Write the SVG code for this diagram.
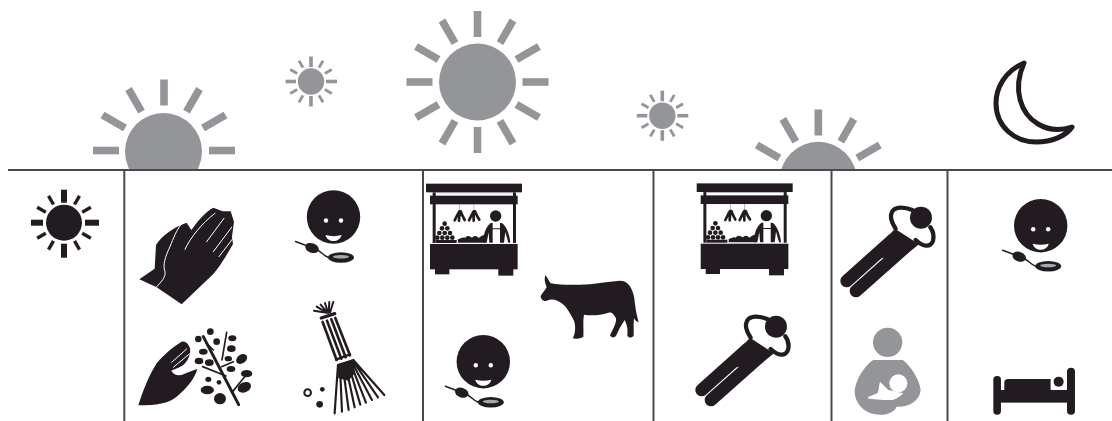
<svg xmlns="http://www.w3.org/2000/svg" width="1112" height="421" viewBox="0 0 1112 421">
<style>
.k{fill:#231f20}.g{fill:#939598}.w{fill:#fff}
.wl{fill:none;stroke:#fff;stroke-width:3;stroke-linecap:round;stroke-linejoin:round}
.kl{fill:none;stroke:#231f20;stroke-linecap:round;stroke-linejoin:round}
.grid{stroke:#4a4a4a;fill:none}
</style>
<defs>
<filter id="soft" filterUnits="userSpaceOnUse" x="0" y="0" width="1112" height="421"><feGaussianBlur stdDeviation="0.5"/></filter>
<clipPath id="horizon"><rect x="0" y="0" width="1112" height="169"/></clipPath>
<g id="bigRay"><rect x="-3.800" y="-71" width="7.600" height="26"/></g>
<g id="smallSun">
<circle r="13.200"/>
<rect x="-1.800" y="-25" width="3.600" height="10.500"/><rect x="-1.800" y="14.500" width="3.600" height="10.500"/>
<rect x="-25.500" y="-1.800" width="10.500" height="3.600"/><rect x="15" y="-1.800" width="11" height="3.600"/>
<rect x="-1.400" y="-24" width="2.800" height="8" transform="rotate(30)"/><rect x="-1.400" y="-24" width="2.800" height="8" transform="rotate(60)"/><rect x="-1.400" y="-24" width="2.800" height="8" transform="rotate(120)"/><rect x="-1.400" y="-24" width="2.800" height="8" transform="rotate(150)"/><rect x="-1.400" y="-24" width="2.800" height="8" transform="rotate(210)"/><rect x="-1.400" y="-24" width="2.800" height="8" transform="rotate(240)"/><rect x="-1.400" y="-24" width="2.800" height="8" transform="rotate(300)"/><rect x="-1.400" y="-24" width="2.800" height="8" transform="rotate(330)"/>
</g>
<g id="face">
<circle class="k" r="26.700"/>
<circle class="w" cx="-7.500" cy="3.500" r="2.200"/><circle class="w" cx="7.500" cy="3.500" r="2.200"/>
<path class="w" d="M-8 18C-3 19.500 3 19.500 8 18C7 22 3.500 24 0 24S-7 22-8 18Z"/>
<path class="kl" stroke-width="1.500" fill="none" d="M-38 24.500L-26 29M-17 32.500C-13 34-10 39-5 40.500"/>
<ellipse class="k" cx="-21.500" cy="31" rx="7" ry="4.800" transform="rotate(20 -21.500 31)"/>
<ellipse class="k" cx="7.500" cy="40.500" rx="13" ry="5.200"/>
<ellipse cx="7.500" cy="39.800" rx="8" ry="1.800" fill="#a7a9ac"/>
</g>
<g id="stall" class="k">
<rect x="18" y="41" width="288" height="26"/>
<rect x="38" y="67" width="9" height="152"/><rect x="279" y="67" width="9" height="152"/>
<rect x="47" y="68" width="232" height="1.500" fill="#777"/>
<rect x="30" y="77" width="263" height="26"/>
<rect x="30" y="222" width="263" height="76"/>
<rect x="45" y="296" width="43" height="17"/><rect x="235" y="296" width="45" height="21"/>
<rect x="118" y="103" width="1.500" height="20" fill="#777"/><rect x="161" y="103" width="1.500" height="20" fill="#777"/>
<path class="kl" stroke-width="8" d="M118 124C112 134 108 143 104 151M120 124C118 134 117 144 117 152M122 124C126 135 130 143 134 150"/>
<path class="kl" stroke-width="8" d="M161 124C155 134 151 143 147 151M163 124C161 134 160 144 161 152M165 124C169 135 173 143 178 149"/>
<circle cx="74" cy="161" r="7"/>
<circle cx="66" cy="175" r="7"/><circle cx="82" cy="175" r="7"/>
<circle cx="58" cy="189" r="7"/><circle cx="74" cy="189" r="7"/><circle cx="90" cy="189" r="7"/>
<circle cx="52" cy="203" r="7"/><circle cx="67" cy="203" r="7"/><circle cx="82" cy="203" r="7"/><circle cx="97" cy="203" r="7"/>
<rect x="47" y="210" width="63" height="9"/>
<path d="M114 218V208C122 207 128 200 135 204C142 194 150 198 156 203C163 196 170 196 176 204C182 198 190 196 196 192V218Z"/>
<circle cx="227" cy="138" r="17"/>
<path d="M190 218C190 195 196 172 212 159H218V175H240V159H246C262 172 270 200 271 218H265L256 186L252 218H240V178H218V218H208L206 187L200 218Z"/>
</g>
<g id="sleeper">
<path class="kl" stroke-width="38" d="M845 660L985 535"/>
<path class="kl" stroke-width="38" d="M873 690L1015 564"/>
<path class="k" d="M990 503L1062 550L1027 578L950 592L932 566Z"/>
<path class="w" d="M1000 455C1008 482 1038 518 1085 531C1096 522 1099 510 1092 494L1050 444Z"/>
<path class="kl" stroke-width="13" d="M992 503C980 485 974 466 981 453C990 435 1020 438 1042 447"/>
<path class="kl" stroke-width="13" d="M1052 537C1075 558 1096 560 1104 540C1108 525 1104 510 1096 499"/>
<circle class="k" cx="1068" cy="470" r="33"/>
</g>
</defs>
<g filter="url(#soft)">
<g id="grid" class="grid">
<path d="M8 170H1112" stroke-width="2"/>
<path d="M124.300 170V421M423 170V421M653.500 170V421M831.500 170V421M947.500 170V421" stroke-width="2"/>
</g>

<g id="sun-rise" class="g">
<g clip-path="url(#horizon)"><circle cx="163.500" cy="151.500" r="38.500"/></g>
<g transform="translate(164 150.500)">
<use href="#bigRay"/><use href="#bigRay" transform="rotate(30)"/><use href="#bigRay" transform="rotate(60)"/><use href="#bigRay" transform="rotate(90)"/><use href="#bigRay" transform="rotate(-30)"/><use href="#bigRay" transform="rotate(-60)"/><use href="#bigRay" transform="rotate(-90)"/>
</g>
</g>
<g id="sun-morning" class="g"><use href="#smallSun" transform="translate(311 81.500)"/></g>
<g id="sun-noon" class="g">
<circle cx="477.500" cy="82" r="38.500"/>
<g transform="translate(477.500 82)">
<use href="#bigRay"/><use href="#bigRay" transform="rotate(30)"/><use href="#bigRay" transform="rotate(60)"/><use href="#bigRay" transform="rotate(90)"/><use href="#bigRay" transform="rotate(120)"/><use href="#bigRay" transform="rotate(150)"/><use href="#bigRay" transform="rotate(180)"/><use href="#bigRay" transform="rotate(210)"/><use href="#bigRay" transform="rotate(240)"/><use href="#bigRay" transform="rotate(270)"/><use href="#bigRay" transform="rotate(300)"/><use href="#bigRay" transform="rotate(330)"/>
</g>
</g>
<g id="sun-afternoon" class="g"><use href="#smallSun" transform="translate(662.300 115.700)"/></g>
<g id="sun-set" class="g">
<g clip-path="url(#horizon)"><circle cx="818.300" cy="180.200" r="38.500"/></g>
<g transform="translate(818.300 180.500)">
<use href="#bigRay"/><use href="#bigRay" transform="rotate(30)"/><use href="#bigRay" transform="rotate(60)"/><use href="#bigRay" transform="rotate(-30)"/><use href="#bigRay" transform="rotate(-60)"/>
</g>
</g>
<g id="moon"><path class="kl" stroke-width="5" d="M1024 63C1005 71 996 88 996 103C996 127 1015 142 1036 142C1052 142 1066 136 1072 127C1060 131 1048 130 1038 124C1021 114 1012 90 1024 63Z"/></g>

<g id="sun-black" class="k" transform="translate(64 222.700)">
<circle r="18"/>
<rect x="-3" y="-33" width="6" height="13"/><rect x="-3" y="21" width="6" height="14"/>
<rect x="-33" y="-3" width="12" height="6"/><rect x="21" y="-3" width="14" height="6"/>
<rect x="-1.700" y="-31" width="3.400" height="10" transform="rotate(30)"/><rect x="-1.700" y="-31" width="3.400" height="10" transform="rotate(60)"/><rect x="-1.700" y="-31" width="3.400" height="10" transform="rotate(120)"/><rect x="-1.700" y="-31" width="3.400" height="10" transform="rotate(150)"/><rect x="-1.700" y="-31" width="3.400" height="10" transform="rotate(210)"/><rect x="-1.700" y="-31" width="3.400" height="10" transform="rotate(240)"/><rect x="-1.700" y="-31" width="3.400" height="10" transform="rotate(300)"/><rect x="-1.700" y="-31" width="3.400" height="10" transform="rotate(330)"/>
</g>

<g id="praying-hands" transform="translate(0 170) scale(.3333)">
<path class="k" d="M418 328L464 296L468 225C485 195 525 170 560 158L574 180C590 158 615 125 640 113L668 124L692 124L702 155L696 200L699 222C680 255 660 290 640 312L545 403L470 352Z"/>
<path class="wl" stroke-width="2.500" d="M470 350C485 335 498 320 495 305C488 285 495 262 510 230C520 205 530 180 542 165"/>
<path class="wl" stroke-width="2.500" d="M555 238C570 205 605 160 645 130"/>
<path class="wl" stroke-width="2.200" d="M620 215L672 145M640 245L695 172M657 260L697 208"/>
</g>
<g id="hand-herb" transform="translate(0 170) scale(.3333)">
<path class="k" d="M415 706C430 660 445 620 470 580C490 555 520 530 545 515C555 512 565 520 570 535C573 552 565 572 550 585C535 595 522 598 514 602C522 616 537 619 552 612C567 606 580 600 592 597C585 625 560 655 530 680C505 700 470 706 415 706Z"/>
<path class="wl" stroke-width="3.500" d="M515 577L560 537M520 592L568 552"/>
<path class="kl" stroke-width="9" d="M610 500L716 704"/>
<path class="kl" stroke-width="5" d="M680 487L666 570M608 590L678 618M736 618L698 665M640 540L620 520M665 590L700 575"/>
<g class="k">
<circle cx="631" cy="485" r="10"/><circle cx="595" cy="507" r="10"/><circle cx="650" cy="515" r="10"/>
<ellipse cx="697" cy="505" rx="12" ry="9"/><ellipse cx="610" cy="545" rx="13" ry="9"/><ellipse cx="694" cy="536" rx="13" ry="10"/>
<ellipse cx="597" cy="573" rx="13" ry="10"/><ellipse cx="628" cy="578" rx="13" ry="10"/><ellipse cx="685" cy="566" rx="11" ry="8"/>
<ellipse cx="725" cy="567" rx="18" ry="13" transform="rotate(-35 725 567)"/><ellipse cx="693" cy="597" rx="13" ry="9"/><ellipse cx="740" cy="611" rx="17" ry="11"/>
<ellipse cx="625" cy="628" rx="9" ry="8"/><circle cx="657" cy="637" r="7"/><ellipse cx="622" cy="660" rx="20" ry="13"/>
<ellipse cx="733" cy="652" rx="21" ry="15" transform="rotate(-25 733 652)"/><ellipse cx="660" cy="686" rx="18" ry="17"/>
</g>
</g>
<g id="broom" transform="translate(0 170) scale(.3333)">
<path class="kl" stroke-width="6" d="M980 428L942 422M980 428L950 410M982 428L962 404M984 428L975 399M986 428L988 396M990 428L1000 396"/>
<path class="kl" stroke-width="10" d="M964 444L1004 431"/>
<path class="kl" stroke-width="8" d="M968 456L1010 570M981 452L1024 566M994 448L1037 562M1006 444L1050 556"/>
<path class="kl" stroke-width="7" d="M1008 569L1050 553"/>
<path class="k" d="M1012 582L1058 568L1065 610L1045 632L1015 625Z"/>
<path class="kl" stroke-width="6.500" d="M1014 585L1004 730M1020 585L1026 725M1028 585L1046 720M1036 580L1064 712M1044 578L1081 704M1050 575L1098 698M1054 573L1116 690M1058 571L1134 682M1060 570L1153 675"/>
<circle cx="923" cy="668" r="10" fill="none" stroke="#231f20" stroke-width="6"/>
<circle class="k" cx="967" cy="658" r="7"/><circle class="k" cx="959" cy="703" r="10"/>
</g>
<g id="face-1"><use href="#face" transform="translate(333.500 217)"/></g>
<g id="stall-1" transform="translate(420 170) scale(.3333)"><use href="#stall"/></g>
<g id="cow" transform="translate(420 170) scale(.3333)">
<path class="k" d="M376 315C382 322 386 332 392 340C420 345 450 345 480 344C520 343 560 335 600 332C625 332 638 355 643 385C646 410 648 430 656 457C650 455 645 450 642 445C640 465 642 480 641 497C636 504 626 504 622 497C624 480 622 465 614 450C605 465 595 480 588 498C582 504 574 504 570 496C578 480 590 460 588 445C580 430 575 425 565 428C540 436 515 438 492 434C488 455 492 480 490 500C480 506 468 508 458 505C466 490 468 470 462 452C450 430 440 410 425 400C410 388 395 385 380 392C372 396 362 388 362 378C368 368 376 360 380 352C375 340 372 328 376 315Z"/>
</g>
<g id="face-2"><use href="#face" transform="translate(483.300 361.700)"/></g>
<g id="stall-2" transform="translate(690.700 169.700) scale(.3333)"><use href="#stall"/></g>
<g id="person-rest-1" transform="translate(420 170) scale(.3333)"><use href="#sleeper"/></g>
<g id="person-rest-2" transform="translate(565 61) scale(.3333)"><use href="#sleeper"/></g>
<g id="breastfeeding" transform="translate(820 170) scale(.3333)">
<circle class="g" cx="203" cy="517" r="44"/>
<path class="g" d="M160 570H248C270 585 300 630 302 660C300 690 270 712 230 710C222 730 190 738 165 733C130 725 105 700 104 665C106 630 135 585 160 570Z"/>
<circle class="w" cx="235" cy="640" r="27"/>
<path class="w" d="M145 680L172 670C178 660 176 645 180 635L205 660L250 670C240 680 228 688 218 690L190 690L145 686Z"/>
</g>
<g id="face-3"><use href="#face" transform="translate(1040.700 225.700)"/></g>
<g id="bed" class="k" transform="translate(820 170) scale(.3333)">
<rect x="520" y="618" width="23" height="116" rx="11"/>
<rect x="741" y="593" width="24" height="141" rx="12"/>
<rect x="540" y="660" width="205" height="38"/>
<path d="M553 660V636C553 630 558 627 565 627H692V660Z"/>
<circle cx="716" cy="635" r="15"/>
</g>
</g>
</svg>
